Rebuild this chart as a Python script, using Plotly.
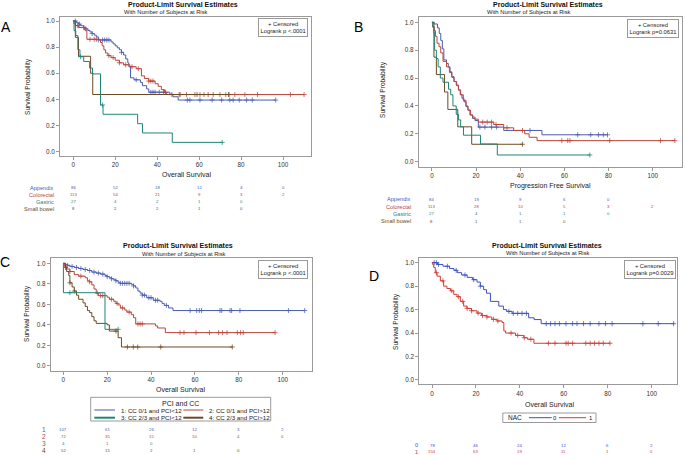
import numpy as np
import plotly.graph_objects as go

# ---------------- data ----------------
ticks_x = [0, 20, 40, 60, 80, 100]
ticks_y = [0.0, 0.2, 0.4, 0.6, 0.8, 1.0]
ticks_y_text = ["0.0", "0.2", "0.4", "0.6", "0.8", "1.0"]

# Panel A - Overall survival by primary site
A_app_t = [0, 1.5, 2.5, 3.5, 5, 6, 7, 8, 9, 10, 11, 12, 18, 19, 20, 21, 22, 23, 24, 25, 26, 26.5, 27.3, 29, 32, 33, 35, 36, 46, 47.5, 50]
A_app_s = [1.0, 0.988, 0.976, 0.964, 0.952, 0.94, 0.928, 0.916, 0.904, 0.892, 0.878, 0.855, 0.84, 0.825, 0.81, 0.795, 0.78, 0.76, 0.74, 0.71, 0.68, 0.65, 0.565, 0.55, 0.53, 0.505, 0.48, 0.455, 0.44, 0.42, 0.395]
A_app_end = 96.5
A_app_c = [1, 3, 6, 9, 12, 14, 15, 16, 17, 23, 30, 37, 38, 39, 41, 43, 44, 54.4, 55.6, 60.4, 66.2, 70.7, 74.6, 76.2, 79.1, 82.6, 85.3, 96.5]

A_col_t = [0, 0.3, 1, 2.5, 5.5, 6.5, 13, 13.8, 14.6, 15.4, 16.5, 18, 20, 22, 24, 27, 30, 32.5, 34, 36, 39, 40.5, 42, 43.5, 44.5]
A_col_s = [1.0, 0.98, 0.965, 0.95, 0.93, 0.86, 0.835, 0.81, 0.78, 0.755, 0.735, 0.72, 0.70, 0.68, 0.665, 0.65, 0.635, 0.58, 0.56, 0.54, 0.52, 0.50, 0.475, 0.45, 0.437]
A_col_end = 110
A_col_c = [2, 5, 8, 10, 11, 17, 19, 22, 25, 28, 31, 36, 37, 38, 47, 51, 54, 58, 60.4, 62.3, 64.3, 66.7, 69.9, 72.7, 74.3, 77, 81.8, 87.8, 103.5, 110]

A_gas_t = [0, 0.4, 1.2, 2.2, 3.2, 5, 7.8, 9.2, 13, 14.2, 30.7, 33, 47.2]
A_gas_s = [1.0, 0.926, 0.889, 0.78, 0.727, 0.69, 0.64, 0.595, 0.357, 0.286, 0.214, 0.143, 0.071]
A_gas_end = 71
A_gas_c = [3.5, 14, 71]

A_sb_t = [0, 1, 2.5, 8.3, 9.3]
A_sb_s = [1.0, 0.875, 0.73, 0.6, 0.4375]
A_sb_end = 74
A_sb_c = [13, 50.5, 59, 74]

# Panel B - Progression free survival by primary site
B_app_t = [0, 1, 2.5, 3.3, 4, 4.7, 5.4, 6.6, 7.4, 8.2, 9, 10, 11, 12, 12.8, 13.6, 14.5, 15.4, 16.3, 17.2, 18.4, 19.5, 21, 32.5, 49.8]
B_app_s = [1.0, 0.988, 0.96, 0.92, 0.87, 0.81, 0.73, 0.705, 0.68, 0.645, 0.61, 0.575, 0.55, 0.514, 0.48, 0.455, 0.43, 0.395, 0.37, 0.335, 0.31, 0.295, 0.248, 0.224, 0.193]
B_app_end = 79.5
B_app_c = [21.7, 24, 27, 29.3, 44.4, 66, 71.9, 75.4, 77.6, 79.5]

B_col_t = [0, 0.3, 1, 1.6, 2.3, 3.2, 4, 5, 6.6, 7.9, 9, 10, 11.2, 12, 13, 14.2, 15.4, 16.3, 17.5, 18.5, 19.5, 21, 28, 32.5, 37, 42, 44, 47.6]
B_col_s = [1.0, 0.97, 0.94, 0.90, 0.85, 0.825, 0.78, 0.72, 0.68, 0.64, 0.605, 0.575, 0.545, 0.515, 0.48, 0.44, 0.40, 0.37, 0.335, 0.32, 0.305, 0.284, 0.267, 0.243, 0.224, 0.20, 0.175, 0.151]
B_col_end = 110
B_col_c = [23, 25, 27, 29, 34, 41, 58.8, 61.5, 62.5, 80.5, 103.5, 110]

B_gas_t = [0, 0.4, 0.8, 1.2, 2, 2.8, 3.8, 5, 7.5, 8.5, 9.5, 11, 12, 13, 14.3, 22, 29.6]
B_gas_s = [1.0, 0.963, 0.926, 0.80, 0.74, 0.68, 0.60, 0.57, 0.52, 0.48, 0.40, 0.34, 0.30, 0.25, 0.19, 0.127, 0.048]
B_gas_end = 71.5
B_gas_c = [71.5]

B_sb_t = [0, 0.9, 2, 5.7, 7.2, 11.7, 18]
B_sb_s = [1.0, 0.75, 0.625, 0.5, 0.375, 0.25, 0.125]
B_sb_end = 41
B_sb_c = [41]

# Panel C - Overall survival by PCI and CC group
C1_t = [0, 1, 2, 3, 5, 7, 9, 11, 13, 15, 17, 19, 20, 21, 22, 23, 24, 25, 26, 31, 32, 33, 34, 35, 36, 38, 41, 44, 45, 46, 48, 50]
C1_s = [1.0, 0.99, 0.98, 0.97, 0.96, 0.95, 0.94, 0.93, 0.915, 0.905, 0.895, 0.88, 0.87, 0.86, 0.85, 0.84, 0.83, 0.815, 0.805, 0.795, 0.78, 0.76, 0.73, 0.71, 0.69, 0.665, 0.64, 0.63, 0.61, 0.59, 0.565, 0.54]
C1_end = 110
C1_c = [2, 4, 6, 8, 10, 12, 14, 16, 18, 20, 22, 24, 26, 27, 28, 29, 30, 32, 36, 37, 39, 40, 42, 43, 47, 57.8, 60.8, 62, 63, 71.4, 72.2, 76, 76.7, 80.5, 102.6, 110]

C2_t = [0, 0.5, 1.5, 3, 5, 7, 10, 11, 12, 13, 14, 15, 16, 20, 21, 23, 24, 25, 26, 28, 29, 31, 32, 33, 42, 43, 46.5]
C2_s = [1.0, 0.97, 0.945, 0.92, 0.89, 0.875, 0.86, 0.83, 0.82, 0.79, 0.75, 0.71, 0.685, 0.67, 0.65, 0.63, 0.61, 0.595, 0.565, 0.545, 0.525, 0.50, 0.47, 0.41, 0.39, 0.37, 0.325]
C2_end = 96.5
C2_c = [3, 8, 12, 15.5, 17, 18, 22, 24.5, 27, 30, 34, 35, 36, 53.2, 55, 60.5, 66.6, 70.8, 72.6, 74.6, 79.3, 80.8, 82, 96.5]

C3_t = [0, 0.05, 19]
C3_s = [1.0, 0.714, 0.357]
C3_end = 25
C3_c = [3, 25]

C4_t = [0, 1, 1.5, 2.5, 3, 4, 5, 6, 7, 9, 10, 11, 12, 13, 14, 15, 20, 21, 25, 26.5]
C4_s = [1.0, 0.96, 0.92, 0.88, 0.81, 0.77, 0.73, 0.69, 0.65, 0.615, 0.58, 0.54, 0.52, 0.48, 0.44, 0.415, 0.40, 0.34, 0.275, 0.185]
C4_end = 77
C4_c = [1, 3, 5, 24, 29.2, 31.9, 33.9, 44.4, 77]

# Panel D - Overall survival by NAC
D0_t = [0, 2.5, 5, 8, 10, 11.5, 13.5, 16, 18.5, 20.5, 22, 23.5, 24.8, 26.6, 30.4, 32.5, 34, 36.5, 44, 46.5, 49.7]
D0_s = [1.0, 0.985, 0.97, 0.95, 0.935, 0.915, 0.895, 0.875, 0.855, 0.835, 0.80, 0.77, 0.74, 0.67, 0.63, 0.60, 0.585, 0.568, 0.53, 0.515, 0.48]
D0_end = 110
D0_c = [1, 2, 3, 7, 11, 15, 19, 22, 35, 37, 39, 41, 43, 52, 54, 56, 58, 61, 64, 66, 69, 72, 76, 79, 82, 96, 103, 110]

D1_t = [0, 0.3, 0.8, 1.5, 2.3, 3.8, 5.3, 6.8, 8.4, 9.9, 11.4, 12.9, 14.4, 15.9, 18, 20.5, 22.6, 25, 27.2, 29.6, 31.9, 32.7, 33.5, 38, 41.8, 43.5, 46.4]
D1_s = [1.0, 0.985, 0.96, 0.915, 0.885, 0.845, 0.80, 0.78, 0.76, 0.73, 0.71, 0.67, 0.63, 0.61, 0.59, 0.57, 0.55, 0.537, 0.517, 0.503, 0.49, 0.418, 0.40, 0.38, 0.36, 0.347, 0.313]
D1_end = 81
D1_c = [2, 5, 9, 12, 14, 16, 18, 21, 23, 25, 28, 30, 36, 39, 42, 45, 53, 56, 61, 62, 64, 70, 72, 74, 76, 78, 81]

# Numbers at risk
site_labels = ["Appendix", "Colorectal", "Gastric", "Small bowel"]
A_risk = [[86, 52, 18, 12, 4, 0], [113, 54, 21, 9, 3, 2], [27, 4, 2, 1, 0], [8, 2, 2, 1, 0]]
B_risk = [[84, 19, 9, 6, 0], [113, 28, 10, 5, 3, 2], [27, 4, 1, 1, 0], [8, 1, 1, 0]]
C_labels = ["1", "2", "3", "4"]
C_legend = ["1: CC 0/1 and PCI&lt;12", "2: CC 0/1 and PCI&gt;12", "3: CC 2/3 and PCI&lt;12", "4: CC 2/3 and PCI&gt;12"]
C_risk = [[107, 61, 26, 12, 3, 2], [72, 35, 15, 10, 4, 0], [4, 1, 0], [52, 15, 2, 1, 0]]
D_labels = ["0", "1"]
D_risk = [[78, 46, 24, 12, 6, 2], [154, 63, 19, 11, 1, 0]]

# ---------------- styling ----------------
W, H = 685, 455
FONT = "Liberation Sans, Arial, sans-serif"
BLUE, RED, GREEN, BROWN = "#4a5cb2", "#b8463b", "#1f8576", "#6e4a22"
D_BLUE, D_RED = "#3d50bd", "#d23a33"
FRAME = "#9a9a9a"


def px(x):
    return x / W


def py(y):
    return 1 - y / H


fig = go.Figure()


def add_curve(t, s, end, cens, color, xa, ya):
    fig.add_trace(go.Scatter(x=list(t) + [end], y=list(s) + [s[-1]], mode="lines",
                             line=dict(color=color, width=1, shape="hv"),
                             xaxis=xa, yaxis=ya, showlegend=False, hoverinfo="skip"))
    ct = np.array(cens, dtype=float)
    idx = np.searchsorted(np.array(t, dtype=float), ct, side="right") - 1
    cy = np.array(s)[idx]
    fig.add_trace(go.Scatter(x=ct, y=cy, mode="markers",
                             marker=dict(symbol="cross-thin", size=3.6, color=color,
                                         line=dict(color=color, width=0.75)),
                             xaxis=xa, yaxis=ya, showlegend=False, hoverinfo="skip"))


panels = {
    "A": dict(xa="x", ya="y", dx=[px(60), px(311)], dy=[py(155.7), py(16.7)], xr=[-6.3, 113.3], yr=[-0.031, 1.033]),
    "B": dict(xa="x2", ya="y2", dx=[px(418.7), px(681.7)], dy=[py(166.7), py(17.3)], xr=[-6.0, 113.1], yr=[-0.036, 1.036]),
    "C": dict(xa="x3", ya="y3", dx=[px(50.7), px(311.7)], dy=[py(370.7), py(258.3)], xr=[-5.74, 113.2], yr=[-0.046, 1.049]),
    "D": dict(xa="x4", ya="y4", dx=[px(419.3), px(676.7)], dy=[py(384.3), py(258.3)], xr=[-5.78, 111.4], yr=[-0.037, 1.0375]),
}

add_curve(A_app_t, A_app_s, A_app_end, A_app_c, BLUE, "x", "y")
add_curve(A_col_t, A_col_s, A_col_end, A_col_c, RED, "x", "y")
add_curve(A_sb_t, A_sb_s, A_sb_end, A_sb_c, BROWN, "x", "y")
add_curve(A_gas_t, A_gas_s, A_gas_end, A_gas_c, GREEN, "x", "y")

add_curve(B_app_t, B_app_s, B_app_end, B_app_c, BLUE, "x2", "y2")
add_curve(B_col_t, B_col_s, B_col_end, B_col_c, RED, "x2", "y2")
add_curve(B_sb_t, B_sb_s, B_sb_end, B_sb_c, BROWN, "x2", "y2")
add_curve(B_gas_t, B_gas_s, B_gas_end, B_gas_c, GREEN, "x2", "y2")

add_curve(C1_t, C1_s, C1_end, C1_c, BLUE, "x3", "y3")
add_curve(C2_t, C2_s, C2_end, C2_c, RED, "x3", "y3")
add_curve(C4_t, C4_s, C4_end, C4_c, BROWN, "x3", "y3")
add_curve(C3_t, C3_s, C3_end, C3_c, GREEN, "x3", "y3")

add_curve(D0_t, D0_s, D0_end, D0_c, D_BLUE, "x4", "y4")
add_curve(D1_t, D1_s, D1_end, D1_c, D_RED, "x4", "y4")

layout_axes = {}
for i, (k, p) in enumerate(panels.items()):
    n = "" if i == 0 else str(i + 1)
    common = dict(showline=True, mirror=True, linecolor=FRAME, linewidth=1, showgrid=False,
                  zeroline=False, ticks="outside", ticklen=3, tickcolor=FRAME, tickwidth=1,
                  tickfont=dict(family=FONT, size=6.3, color="#333333"), fixedrange=True)
    layout_axes["xaxis" + n] = dict(common, domain=p["dx"], range=p["xr"], tickvals=ticks_x,
                                    anchor="y" + n)
    layout_axes["yaxis" + n] = dict(common, domain=p["dy"], range=p["yr"], tickvals=ticks_y,
                                    ticktext=ticks_y_text, anchor="x" + n)

ann = []


def text(x, y, s, size, color="#222222", xanchor="center", bold=False, angle=0, xref="paper"):
    ann.append(dict(x=x if xref != "paper" else px(x), y=py(y), xref=xref, yref="paper", text=s,
                    showarrow=False, xanchor=xanchor, yanchor="middle", textangle=angle,
                    font=dict(family=FONT, size=size, color=color,
                              weight="bold" if bold else "normal")))


# titles
for cx1, cx2, y1, y2 in [(183, 166, 4.3, 11.7), (548.3, 529, 4.3, 11.7), (178.3, 184, 245.7, 254), (546.8, 548.3, 245.7, 253.3)]:
    text(cx1, y1, "Product-Limit Survival Estimates", 7, "#111111", bold=True)
    text(cx2, y2, "With Number of Subjects at Risk", 5.8, "#222222")

# panel letters
for L, x, y in [("A", 6, 26.7), ("B", 358.3, 26.7), ("C", 4.5, 262.3), ("D", 373.7, 275.8)]:
    text(x, y, L, 14, "#000000")

# axis titles
text(28, 87, "Survival Probability", 6.6, angle=-90)
text(383, 90, "Survival Probability", 6.6, angle=-90)
text(27, 314, "Survival Probability", 6.6, angle=-90)
text(396, 322, "Survival Probability", 6.6, angle=-90)
text(186, 174.5, "Overall Survival", 7)
text(550, 185.5, "Progression Free Survival", 7)
text(180, 389, "Overall Survival", 7)
text(549, 404, "Overall Survival", 7)

# censor / logrank boxes
for cx, cy, p in [(282.8, 27.5, "p &lt;.0001"), (653.3, 28.3, "p=0.0631"), (282.8, 269.8, "p &lt;.0001"), (650, 269.8, "p=0.0029")]:
    ann.append(dict(x=px(cx), y=py(cy), xref="paper", yref="paper", showarrow=False,
                    text="+ Censored<br>Logrank " + p, align="center", xanchor="center", yanchor="middle",
                    bordercolor=FRAME, borderwidth=1, borderpad=1.5, bgcolor="white",
                    font=dict(family=FONT, size=5.8, color="#222222")))

# risk tables
A_cols = [BLUE, RED, GREEN, BROWN]
for r, (lab, vals) in enumerate(zip(site_labels, A_risk)):
    y = [187.7, 194.7, 201.7, 208.7][r]
    text(55.5, y, lab, 5.6, A_cols[r], xanchor="right")
    for j, v in enumerate(vals):
        text(ticks_x[j], y, str(v), 4.3, A_cols[r], xref="x")
for r, (lab, vals) in enumerate(zip(site_labels, B_risk)):
    y = [199.3, 206.7, 213.7, 221][r]
    text(413, y, lab, 5.6, A_cols[r], xanchor="right")
    for j, v in enumerate(vals):
        text(ticks_x[j], y, str(v), 4.3, A_cols[r], xref="x2")
for r, (lab, vals) in enumerate(zip(C_labels, C_risk)):
    y = [429.5, 436.3, 443.2, 450.5][r]
    text(43.7, y, lab, 6.5, A_cols[r])
    for j, v in enumerate(vals):
        text(ticks_x[j], y, str(v), 4.3, A_cols[r], xref="x3")
D_cols = [D_BLUE, D_RED]
for r, (lab, vals) in enumerate(zip(D_labels, D_risk)):
    y = [445, 451.5][r]
    text(416, y, lab, 5.6, D_cols[r])
    for j, v in enumerate(vals):
        text(ticks_x[j], y, str(v), 4.3, D_cols[r], xref="x4")

# Legend C (PCI and CC)
shapes = []
shapes.append(dict(type="rect", xref="paper", yref="paper", x0=px(90.7), x1=px(270.7), y0=py(421), y1=py(397.3),
                   line=dict(color=FRAME, width=1), fillcolor="white", layer="below"))
text(180, 403.3, "PCI and CC", 7, "#222222")
leg_pos = [(94.3, 115, 119.3, 410), (183.3, 203.3, 207.3, 410), (94.3, 115, 119.3, 417.7), (183.3, 203.3, 207.3, 417.7)]
leg_w = [1, 1, 2, 2]
for (x0, x1, xt, y), lab, col, lw in zip(leg_pos, C_legend, A_cols, leg_w):
    shapes.append(dict(type="line", xref="paper", yref="paper", x0=px(x0), x1=px(x1), y0=py(y), y1=py(y),
                       line=dict(color=col, width=lw)))
    text(xt, y, lab, 6.2, "#222222", xanchor="left")

# Legend D (NAC)
shapes.append(dict(type="rect", xref="paper", yref="paper", x0=px(502.8), x1=px(596), y0=py(422.5), y1=py(413),
                   line=dict(color=FRAME, width=1), fillcolor="white", layer="below"))
text(506, 417.7, "NAC", 6.5, "#222222", xanchor="left")
for (x0, x1, xt), lab, col in zip([(529, 551.7, 555), (559, 586, 590.7)], D_labels, D_cols):
    shapes.append(dict(type="line", xref="paper", yref="paper", x0=px(x0), x1=px(x1), y0=py(417.7), y1=py(417.7),
                       line=dict(color=col, width=1)))
    text(xt, 417.7, lab, 6, "#222222")

fig.update_layout(width=W, height=H, margin=dict(l=0, r=0, t=0, b=0), autosize=False,
                  paper_bgcolor="white", plot_bgcolor="white", showlegend=False,
                  font=dict(family=FONT), annotations=ann, shapes=shapes, **layout_axes)

fig.write_html("out.html", config={"displayModeBar": False, "staticPlot": True},
               post_script="document.body.style.margin='0';document.body.style.padding='0';"
                           "document.body.style.overflow='hidden';")
